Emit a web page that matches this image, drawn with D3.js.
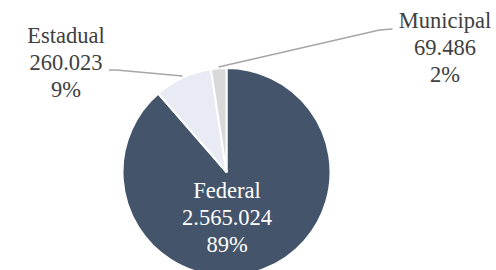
<!DOCTYPE html>
<html>
<head>
<meta charset="utf-8">
<script src="https://cdn.jsdelivr.net/npm/d3@7"></script>
<style>
  body { margin: 0; background: #fff; }
  svg text, svg tspan { font-family: "Liberation Serif", "Times New Roman", serif !important; }
</style>
</head>
<body>
<svg width="496" height="270"></svg>
<script>
const categories = ["Federal", "Estadual", "Municipal"];
const values = [2565024, 260023, 69486];
const colors = ["#44546A", "#E8EAF4", "#D9D9D9"];

const svg = d3.select("svg");
const cx = 226.5, cy = 172, radius = 104;

const data = categories.map((c, i) => ({ name: c, value: values[i] }));
const total = d3.sum(values);

const loc = d3.formatLocale({ decimal: ",", thousands: ".", grouping: [3], currency: ["R$", ""] });
const fmt = loc.format(",d");

const pie = d3.pie().value((d) => d.value).sort(null);
const arc = d3.arc().innerRadius(0).outerRadius(radius);

const g = svg.append("g").attr("transform", `translate(${cx},${cy})`);

g.selectAll("path")
  .data(pie(data))
  .enter()
  .append("path")
  .attr("d", arc)
  .attr("fill", (d, i) => colors[i])
  .attr("stroke", "#fff")
  .attr("stroke-width", 2)
  .attr("stroke-linejoin", "round");

// leader lines, relative to pie centre
const leaders = [
  null,
  [[-117.5, -102], [-110, -102], [-44, -96]],
  [[-8, -105], [153, -142], [166, -143]]
];

leaders.forEach((pts) => {
  if (!pts) return;
  g.append("path")
    .attr("d", d3.line()(pts))
    .attr("fill", "none")
    .attr("stroke", "#A6A6A6")
    .attr("stroke-width", 1.3);
});

// label block: centre x and first baseline, relative to pie centre
const labelPos = [[0.5, 26], [-160.5, -129], [218.5, -144]];
const lh = 27;

data.forEach((d, i) => {
  const lines = [d.name, fmt(d.value), Math.round(d.value / total * 100) + "%"];
  svg.selectAll(null)
    .data(lines)
    .enter()
    .append("text")
    .attr("x", cx + labelPos[i][0])
    .attr("y", (s, k) => cy + labelPos[i][1] + k * lh)
    .attr("text-anchor", "middle")
    .attr("font-size", 22.5)
    .attr("fill", i === 0 ? "#fff" : "#404040")
    .text((s) => s);
});
</script>
</body>
</html>
